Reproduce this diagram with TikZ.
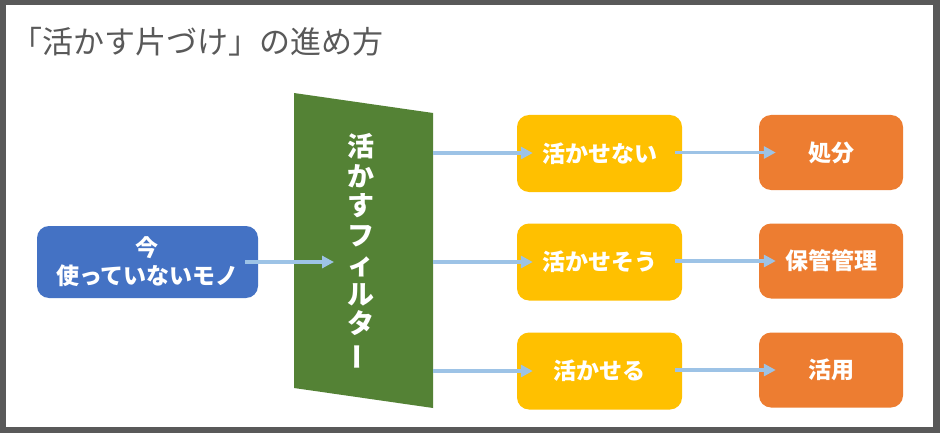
\documentclass[tikz,border=0pt]{standalone}
\usepackage{fontspec}
\usepackage{graphicx}
\newfontfamily\jp{Noto Sans CJK JP}
\usetikzlibrary{arrows.meta}
\definecolor{framegray}{HTML}{595959}
\definecolor{boxblue}{HTML}{4472C4}
\definecolor{boxyellow}{HTML}{FFC000}
\definecolor{boxorange}{HTML}{ED7D31}
\definecolor{filtergreen}{HTML}{548235}
\definecolor{arrowblue}{HTML}{9DC3E6}
\tikzset{
  box/.style={rounded corners=12pt, minimum height=76pt, inner sep=0pt,
    text=white, align=center, font=\jp\bfseries\fontsize{23}{28}\selectfont},
  bluebox/.style={box, fill=boxblue, minimum width=221pt, minimum height=72pt},
  yellowbox/.style={box, fill=boxyellow, minimum width=165pt, minimum height=77pt},
  orangebox/.style={box, fill=boxorange, minimum width=144pt, minimum height=75pt},
  flow/.style={draw=arrowblue, line width=3.5pt,
    -{Triangle[length=12pt,width=12pt]}},
}
\begin{document}
\begin{tikzpicture}[x=1pt,y=-1pt]
\useasboundingbox (0,0) rectangle (940,433);
\fill[framegray] (0,0) rectangle (940,433);
\fill[white] (6,5) rectangle (933,427);

\node[anchor=west, text=framegray, inner sep=0pt,
  font=\jp\fontsize{31}{33}\selectfont] (title) at (11.5,42) {「活かす片づけ」の進め方};

% input
\node[bluebox] (input) at (147.5,262) {今\\使っていないモノ};

% filter
\fill[filtergreen] (294,93) -- (433,113) -- (433,408) -- (294,388) -- cycle;
\node[text=white, align=center, inner sep=0pt,
  font=\jp\bfseries\fontsize{27}{29.5}\selectfont] (filter) at (361,252)
  {活\\か\\す\\フ\\ィ\\ル\\タ\\\rotatebox[origin=c]{90}{ー}};
\coordinate (fin) at (334,262);
\coordinate (f1) at (433,153);
\coordinate (f2) at (433,262);
\coordinate (f3) at (433,371);

% outcomes
\node[yellowbox] (y1) at (599.5,153.5) {活かせない};
\node[yellowbox] (y2) at (599.5,262) {活かせそう};
\node[yellowbox] (y3) at (599.5,371) {活かせる};
\node[orangebox] (o1) at (831,152.5) {処分};
\node[orangebox] (o2) at (831,261) {保管管理};
\node[orangebox] (o3) at (831,370) {活用};

% connectors
\draw[flow] ([xshift=-13pt]input.east) -- (fin);
\draw[flow] (f1) -- ([xshift=16pt]y1.west |- f1);
\draw[flow] (f2) -- ([xshift=16pt]y2.west |- f2);
\draw[flow] (f3) -- ([xshift=16pt]y3.west |- f3);
\draw[flow] ([xshift=-7pt]y1.east |- o1) -- ([xshift=17pt]o1.west);
\draw[flow] ([xshift=-7pt]y2.east |- o2) -- ([xshift=17pt]o2.west);
\draw[flow] ([xshift=-7pt]y3.east |- o3) -- ([xshift=17pt]o3.west);
\end{tikzpicture}
\end{document}
